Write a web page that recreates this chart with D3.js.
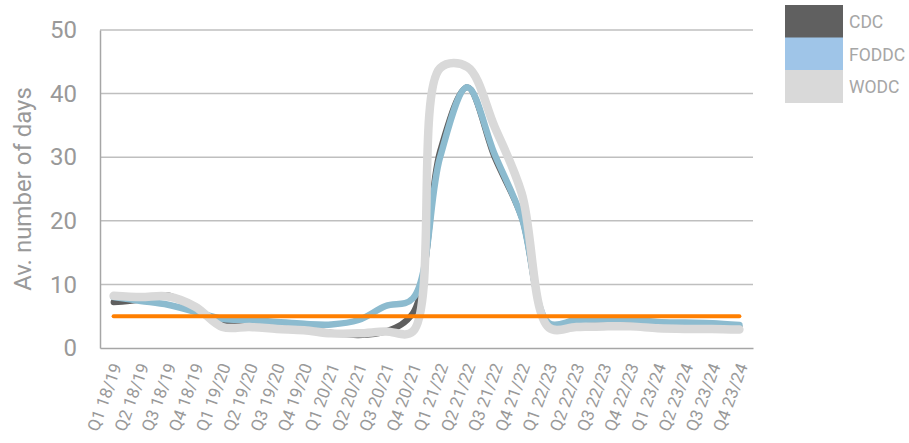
<!DOCTYPE html>
<html>
<head>
<meta charset="utf-8">
<script src="https://cdn.jsdelivr.net/npm/d3@7"></script>
<style>
  html, body { margin: 0; padding: 0; background: #fff; }
  svg { display: block; font-family: Roboto, "Noto Sans", sans-serif; }
</style>
</head>
<body>
<svg id="chart" width="909" height="443"></svg>
<script>
// Quarterly categories
const quarters = [
  "Q1 18/19", "Q2 18/19", "Q3 18/19", "Q4 18/19",
  "Q1 19/20", "Q2 19/20", "Q3 19/20", "Q4 19/20",
  "Q1 20/21", "Q2 20/21", "Q3 20/21", "Q4 20/21",
  "Q1 21/22", "Q2 21/22", "Q3 21/22", "Q4 21/22",
  "Q1 22/23", "Q2 22/23", "Q3 22/23", "Q4 22/23",
  "Q1 23/24", "Q2 23/24", "Q3 23/24", "Q4 23/24"
];

// Average number of days per quarter
const cdc   = [7.2, 7.6, 8.3, 6.0, 3.8, 3.6, 3.4, 3.0, 2.4, 2.0, 2.6, 5.5, 31.0, 41.0, 30.0, 20.5, 3.6, 4.3, 4.5, 4.4, 4.0, 3.9, 3.8, 3.4];
const foddc = [8.0, 7.4, 6.8, 5.7, 4.6, 4.4, 4.1, 3.8, 3.7, 4.4, 6.6, 7.8, 30.0, 41.0, 30.5, 20.5, 3.9, 4.4, 4.5, 4.5, 4.1, 4.0, 3.9, 3.6];
const wodc  = [8.2, 8.0, 8.1, 6.5, 3.3, 3.3, 3.0, 2.8, 2.3, 2.3, 2.6, 2.6, 44.0, 44.2, 34.8, 24.3, 3.2, 3.3, 3.4, 3.4, 3.1, 3.0, 3.0, 2.9];
// Target level
const target = 5;

const yTicks = [0, 10, 20, 30, 40, 50];

const seriesNames = ["CDC", "FODDC", "WODC"];
const legendColors = ["#606060", "#9fc5e8", "#d9d9d9"];

const svg = d3.select("#chart");

const plotLeft = 100, plotRight = 753, plotTop = 30, plotBottom = 348;

const x = d3.scalePoint().domain(quarters).range([plotLeft, plotRight]).padding(0.5);
const y = d3.scaleLinear().domain([0, 50]).range([plotBottom, plotTop]);

// Horizontal gridlines
svg.append("g")
  .selectAll("line")
  .data(yTicks.filter(d => d > 0))
  .join("line")
  .attr("x1", plotLeft).attr("x2", plotRight)
  .attr("y1", d => y(d)).attr("y2", d => y(d))
  .attr("stroke", "#bfbfbf")
  .attr("stroke-width", 1.5);

// Y axis
const yAxis = svg.append("g")
  .attr("transform", `translate(${plotLeft},0)`)
  .call(d3.axisLeft(y).tickValues(yTicks).tickSize(0).tickPadding(23));
yAxis.select(".domain").attr("stroke", "#a6a6a6").attr("stroke-width", 1.5);
yAxis.selectAll("text")
  .attr("fill", "#999")
  .style("font-size", "24px")
  .style("font-family", "Roboto, sans-serif");

// X axis
const xAxis = svg.append("g")
  .attr("transform", `translate(0,${plotBottom})`)
  .call(d3.axisBottom(x).tickSize(0).tickPadding(0));
xAxis.select(".domain").attr("stroke", "#a6a6a6").attr("stroke-width", 1.5);
xAxis.selectAll("text")
  .attr("fill", "#999")
  .style("font-size", "17px")
  .style("font-family", "Roboto, sans-serif")
  .attr("text-anchor", "end")
  .attr("dy", null)
  .attr("y", 0)
  .attr("transform", "translate(8,18) rotate(-70)");

// Y axis title
svg.append("text")
  .attr("transform", `translate(31,${(plotTop + plotBottom) / 2}) rotate(-90)`)
  .attr("text-anchor", "middle")
  .attr("fill", "#999")
  .style("font-size", "24px")
  .text("Av. number of days");

// Smoothed series lines
const line = d3.line()
  .x((d, i) => x(quarters[i]))
  .y(d => y(d))
  .curve(d3.curveCatmullRom.alpha(0.5));

const series = [
  { values: cdc,   color: "#5f5f5f", width: 6 },
  { values: foddc, color: "#8cbbcf", width: 6.5 },
  { values: wodc,  color: "#d9d9d9", width: 8.5 }
];

svg.append("g")
  .selectAll("path")
  .data(series)
  .join("path")
  .attr("d", d => line(d.values))
  .attr("fill", "none")
  .attr("stroke", d => d.color)
  .attr("stroke-width", d => d.width)
  .attr("stroke-linecap", "round")
  .attr("stroke-linejoin", "round");

// Target line
svg.append("line")
  .attr("x1", x(quarters[0])).attr("x2", x(quarters[quarters.length - 1]))
  .attr("y1", y(target)).attr("y2", y(target))
  .attr("stroke", "#ff7f00")
  .attr("stroke-width", 4)
  .attr("stroke-linecap", "round");

// Legend
const legend = svg.append("g").attr("transform", "translate(785,5)");
legend.selectAll("rect")
  .data(seriesNames)
  .join("rect")
  .attr("x", 0)
  .attr("y", (d, i) => i * 32.5)
  .attr("width", 58)
  .attr("height", 33)
  .attr("fill", (d, i) => legendColors[i]);
legend.selectAll("text")
  .data(seriesNames)
  .join("text")
  .attr("x", 64)
  .attr("y", (d, i) => 23 + i * 32.5)
  .attr("fill", "#a6a6a6")
  .style("font-size", "17.5px")
  .text(d => d);
</script>
</body>
</html>
